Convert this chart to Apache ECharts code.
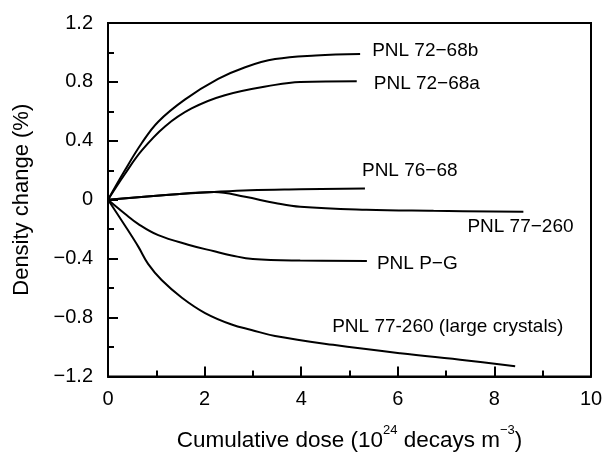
<!DOCTYPE html>
<html>
<head>
<meta charset="utf-8">
<script src="https://cdn.jsdelivr.net/npm/echarts@6/dist/echarts.min.js"></script>
<style>
  html, body { margin: 0; padding: 0; background: #fff; }
  #chart { width: 610px; height: 457px; }
</style>
</head>
<body>
<div id="chart"></div>
<script>
// Axis ticks
const xTicks = [0, 2, 4, 6, 8, 10];
const yTicks = [-1.2, -0.8, -0.4, 0, 0.4, 0.8, 1.2];

// Density change (%) against cumulative dose (10^24 decays m^-3)
const pnl7268b = [[0, 0], [0.35, 0.2], [0.7, 0.385], [1.04, 0.53], [1.59, 0.68], [2.28, 0.82], [2.84, 0.9], [3.46, 0.955], [4.3, 0.98], [5.22, 0.99]];
const pnl7268a = [[0, 0], [0.35, 0.175], [0.7, 0.335], [1.18, 0.498], [1.73, 0.62], [2.42, 0.71], [3.46, 0.78], [3.98, 0.8], [5.15, 0.805]];
const pnl7668 = [[0, 0], [1.2, 0.032], [2.2, 0.053], [2.94, 0.065], [3.98, 0.071], [5.32, 0.077]];
const pnl77260 = [[0, 0], [1.2, 0.032], [2.2, 0.053], [2.84, 0.02], [3.46, -0.022], [3.98, -0.048], [5.35, -0.068], [6.74, -0.075], [8.6, -0.082]];
const pnlPG = [[0, 0], [0.35, -0.095], [0.63, -0.165], [1.04, -0.24], [1.66, -0.305], [2.2, -0.35], [2.56, -0.378], [3.0, -0.403], [3.98, -0.413], [5.36, -0.415]];
const pnlLarge = [[0, 0], [0.35, -0.175], [0.63, -0.32], [0.83, -0.435], [1.11, -0.545], [1.53, -0.665], [2.01, -0.769], [2.56, -0.847], [2.97, -0.884], [3.46, -0.925], [4.66, -0.985], [6.05, -1.042], [7.43, -1.091], [8.43, -1.131]];

const FONT = '"Liberation Sans", Arial, Helvetica, sans-serif';

function fmt(v) {
  if (Math.abs(v) < 1e-9) return '0';
  const s = String(parseFloat(Math.abs(v).toFixed(1)));
  return v < 0 ? '\u2212' + s : s;
}

function curve(name, data, offset) {
  return {
    type: 'line',
    name: name,
    data: data,
    smooth: 0.4,
    showSymbol: false,
    symbol: 'none',
    lineStyle: { color: '#000', width: 2 },
    endLabel: {
      show: true,
      formatter: name,
      distance: 0,
      offset: offset,
      align: 'left',
      verticalAlign: 'middle',
      fontFamily: FONT,
      fontSize: 19,
      color: '#000'
    },
    emphasis: { disabled: true },
    z: 3
  };
}

const axisCommon = {
  axisLine: { show: true, onZero: false, lineStyle: { color: '#000', width: 2 } },
  axisTick: { show: true, inside: true, length: 10, lineStyle: { color: '#000', width: 2 } },
  minorTick: { show: true, splitNumber: 2, length: 6, lineStyle: { color: '#000', width: 2 } },
  splitLine: { show: false }
};

const chart = echarts.init(document.getElementById('chart'), null, { renderer: 'canvas' });
chart.setOption({
  animation: false,
  backgroundColor: '#fff',
  grid: {
    left: 108, right: 19, top: 23, bottom: 74,
    show: true, borderColor: '#000', borderWidth: 2, backgroundColor: 'transparent'
  },
  xAxis: Object.assign({
    type: 'value',
    min: xTicks[0], max: xTicks[xTicks.length - 1], interval: xTicks[1] - xTicks[0],
    name: '{a|Cumulative dose (10}{s|24}{a| decays m}{s|\u22123}{a|)}',
    nameLocation: 'middle',
    nameGap: 47,
    nameTextStyle: {
      rich: {
        a: { fontFamily: FONT, fontSize: 22.5, color: '#000', lineHeight: 34 },
        s: { fontFamily: FONT, fontSize: 13, color: '#000', lineHeight: 13, verticalAlign: 'top' }
      }
    },
    axisLabel: { fontFamily: FONT, fontSize: 20, color: '#000', margin: 13, formatter: fmt }
  }, axisCommon),
  yAxis: Object.assign({
    type: 'value',
    min: yTicks[0], max: yTicks[yTicks.length - 1], interval: yTicks[1] - yTicks[0],
    name: 'Density change (%)',
    nameLocation: 'middle',
    nameGap: 75,
    nameTextStyle: { fontFamily: FONT, fontSize: 22, color: '#000' },
    axisLabel: { fontFamily: FONT, fontSize: 20, color: '#000', margin: 15, formatter: fmt }
  }, axisCommon),
  series: [
    curve('PNL 72\u221268b', pnl7268b, [12, -3]),
    curve('PNL 72\u221268a', pnl7268a, [17, 3]),
    curve('PNL 76\u221268', pnl7668, [-3, -18]),
    curve('PNL 77\u2212260', pnl77260, [-56, 15]),
    curve('PNL P\u2212G', pnlPG, [10, 3]),
    curve('PNL 77-260 (large crystals)', pnlLarge, [-183, -40])
  ]
});
</script>
</body>
</html>
